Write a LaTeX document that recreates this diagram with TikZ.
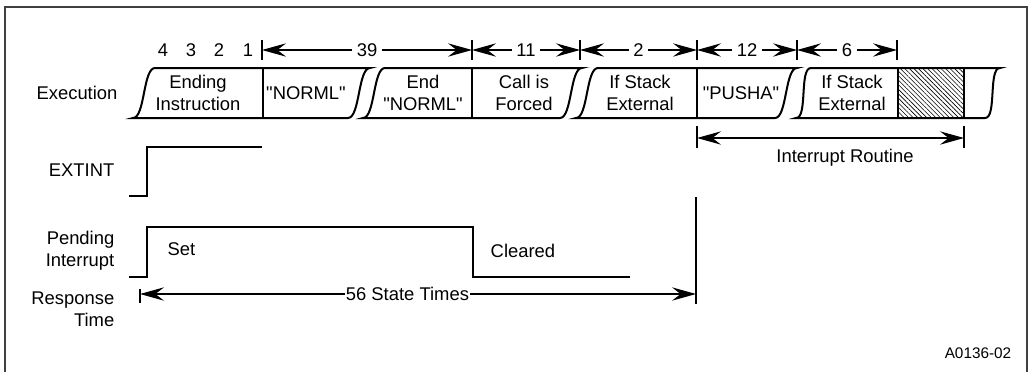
\documentclass[tikz,border=0pt]{standalone}
\usepackage{fontspec}
\setmainfont{Liberation Sans}[Ligatures=TeXOff]
\usepackage{tikz}
\usetikzlibrary{arrows.meta}
\usetikzlibrary{patterns.meta}

\tikzset{
  boxline/.style={line width=1.5pt},
  wave/.style={line width=2.2pt},
  dimline/.style={line width=0.8pt,{Stealth[length=18pt,width=10pt,inset=6.5pt]}-{Stealth[length=18pt,width=10pt,inset=6.5pt]}},
  ticks/.style={line width=0.8pt},
  dimlabel/.style={fill=white,inner sep=3.5pt},
  seglabel/.style={align=center},
  sidelabel/.style={align=right,anchor=east}
}

\begin{document}
\begin{tikzpicture}[x=0.75pt,y=-0.75pt,font=\fontsize{13.8}{16.5}\selectfont]
				\useasboundingbox (0,0) rectangle (1030,372);
				\draw[line width=1.2pt,black!75] (5,372) -- (5,7) -- (1027,7) -- (1027,372);
				% execution segments
				\fill[pattern={Lines[angle=-45,distance=2.4pt,line width=0.45pt]}] (898,68) rectangle (964,118);
				\foreach \l/\r/\o in {133/370/22,363/582/22,576/797/22,796/1000/15}
				  \draw[boxline] (\l,118) .. controls (\l+12,118) and (\l+\o-12,68) .. (\l+\o,68) -- (\r,68)
				    .. controls (\r-12,68) and (\r-\o+12,118) .. (\r-\o,118) -- cycle;
				\foreach \x in {263,472,697,898,964}
				  \draw[boxline] (\x,68) -- (\x,118);
				\node (execlbl) at (77,93) {Execution};
				\node[seglabel] (ending) at (198,93) {Ending\\Instruction};
				\node[seglabel] (norml) at (306,93) {"NORML"};
				\node[seglabel] (endnorml) at (423,93) {End\\"NORML"};
				\node[seglabel] (forced) at (524,93) {Call is\\Forced};
				\node[seglabel] (stack) at (640,93) {If Stack\\External};
				\node[seglabel] (pusha) at (741,93) {"PUSHA"};
				\node[seglabel] (stackb) at (852,93) {If Stack\\External};
				% state counts
				\node (n4) at (163,50) {4};
				\node (n3) at (191,50) {3};
				\node (n2) at (219,50) {2};
				\node (n1) at (248,50) {1};
				\foreach \x in {262,472,580,697,797,897}
				  \draw[ticks] (\x,40) -- (\x,60);
				\coordinate (r0) at (262,50);
				\coordinate (r1) at (472,50);
				\coordinate (r2) at (580,50);
				\coordinate (r3) at (697,50);
				\coordinate (r4) at (797,50);
				\coordinate (r5) at (897,50);
				\draw[dimline] (r0) -- node[dimlabel] (c39) {39} (r1);
				\draw[dimline] (r1) -- node[dimlabel] (c11) {11} (r2);
				\draw[dimline] (r2) -- node[dimlabel] (c2) {2} (r3);
				\draw[dimline] (r3) -- node[dimlabel] (c12) {12} (r4);
				\draw[dimline] (r4) -- node[dimlabel] (c6) {6} (r5);
				% interrupt routine
				\draw[ticks] (697,126) -- (697,148);
				\draw[ticks] (964,126) -- (964,148);
				\coordinate (ir0) at (697,138);
				\coordinate (ir1) at (964,138);
				\draw[dimline] (ir0) -- (ir1);
				\node (irlbl) at (845,158) {Interrupt Routine};
				% EXTINT
				\node[sidelabel] (extlbl) at (119,170) {EXTINT};
				\draw[wave] (129,196) -- (147,196) -- (147,147) -- (262,147);
				% pending interrupt
				\node[sidelabel] (pendlbl) at (119,251) {Pending\\Interrupt};
				\draw[wave] (129,277) -- (147,277) -- (147,227) -- (473,227) -- (473,277) -- (630,277);
				\node[anchor=west] (setlbl) at (163,249) {Set};
				\node[anchor=west] (clrlbl) at (486,251) {Cleared};
				% response time
				\node[sidelabel] (resplbl) at (119,309) {Response\\Time};
				\draw[ticks] (140,289) -- (140,303);
				\draw[ticks] (696,197) -- (696,304);
				\coordinate (rt0) at (140,294);
				\coordinate (rt1) at (696,294);
				\draw[dimline] (rt0) -- node[dimlabel,inner sep=1pt,pos=0.481] (rtlbl) {56 State Times} (rt1);
				\node[font=\fontsize{11.5}{14}\selectfont] (figid) at (978,353) {A0136-02};
			\end{tikzpicture}
\end{document}
